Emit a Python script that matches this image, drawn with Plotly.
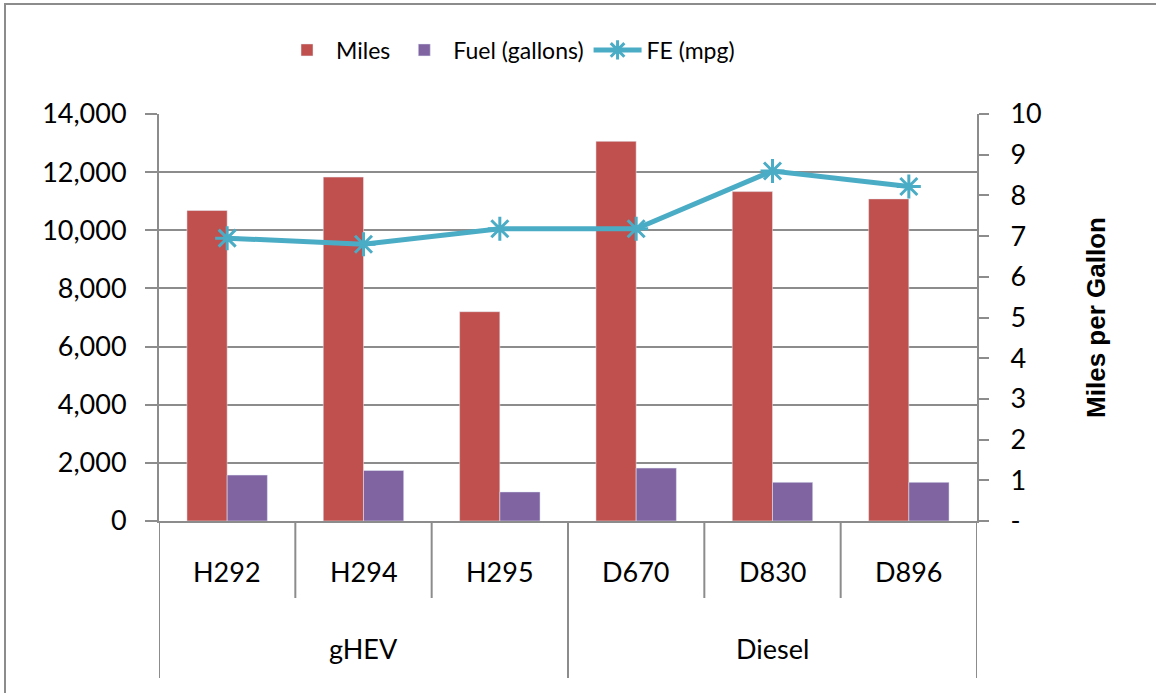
import plotly.graph_objects as go

# ---- data ----
groups = ["gHEV", "gHEV", "gHEV", "Diesel", "Diesel", "Diesel"]
vehicles = ["H292", "H294", "H295", "D670", "D830", "D896"]
miles = [10680, 11830, 7200, 13060, 11330, 11080]
fuel = [1580, 1740, 1000, 1820, 1330, 1330]
fe_mpg = [6.95, 6.80, 7.18, 7.18, 8.60, 8.22]
left_ticks = [0, 2000, 4000, 6000, 8000, 10000, 12000, 14000]
right_ticks = [0, 1, 2, 3, 4, 5, 6, 7, 8, 9, 10]
right_ticktext = ["-", "1", "2", "3", "4", "5", "6", "7", "8", "9", "10"]

RED = "#C0504D"
PURPLE = "#8064A2"
TEAL = "#4BACC6"
GRID = "#8C8C8C"
FONT = "Lato"

W, H = 1156, 693
L, R, T, B = 159, 179, 114, 172
PW, PH = W - L - R, H - T - B


def px_to_paper_x(px):
    return (px - L) / PW


def px_to_paper_y(py):
    return (H - B - py) / PH


fig = go.Figure()
fig.add_trace(go.Bar(name="Miles", x=vehicles, y=miles, marker_color=RED,
                     yaxis="y"))
fig.add_trace(go.Bar(name="Fuel (gallons)", x=vehicles, y=fuel,
                     marker_color=PURPLE, yaxis="y"))
fig.add_trace(go.Scatter(name="FE (mpg)", x=vehicles, y=fe_mpg, yaxis="y2",
                         mode="lines+markers",
                         line=dict(color=TEAL, width=5),
                         marker=dict(symbol="asterisk-open", size=20,
                                     color=TEAL,
                                     line=dict(width=3, color=TEAL))))

shapes = []
annotations = []

# category boundaries (level 1) and group boundaries (level 2)
n = len(vehicles)
group_bounds = [0]
for i in range(1, n):
    if groups[i] != groups[i - 1]:
        group_bounds.append(i)
group_bounds.append(n)
for i in range(n + 1):
    long_line = i in group_bounds
    shapes.append(dict(type="line", xref="x", yref="paper",
                       x0=i - 0.5, x1=i - 0.5,
                       y0=0, y1=px_to_paper_y(678 if long_line else 598),
                       line=dict(color=GRID, width=2)))
for v in vehicles:
    annotations.append(dict(x=v, y=px_to_paper_y(571), xref="x", yref="paper",
                            text=v, showarrow=False, yanchor="middle",
                            font=dict(family=FONT, size=27, color="black")))
for a, b in zip(group_bounds[:-1], group_bounds[1:]):
    annotations.append(dict(x=(a + b - 1) / 2, y=px_to_paper_y(648),
                            xref="x", yref="paper", text=groups[a],
                            showarrow=False, yanchor="middle",
                            font=dict(family=FONT, size=27, color="black")))

# outer chart frame
shapes.append(dict(type="rect", xref="paper", yref="paper",
                   x0=px_to_paper_x(5), x1=px_to_paper_x(1170),
                   y0=px_to_paper_y(710), y1=px_to_paper_y(4),
                   line=dict(color=GRID, width=2), fillcolor="rgba(0,0,0,0)",
                   layer="below"))

fig.update_layout(
    width=W, height=H,
    margin=dict(l=L, r=R, t=T, b=B, autoexpand=False),
    paper_bgcolor="white", plot_bgcolor="white",
    barmode="group", bargap=0.41, bargroupgap=0,
    font=dict(family=FONT, size=27, color="black"),
    showlegend=True,
    legend=dict(orientation="h", x=px_to_paper_x(509), xanchor="center",
                y=px_to_paper_y(50), yanchor="middle",
                font=dict(family=FONT, size=23, color="black"),
                itemwidth=48, traceorder="normal"),
    xaxis=dict(type="category", categoryorder="array", categoryarray=vehicles,
               showticklabels=False, ticks="", showline=True,
               linecolor=GRID, linewidth=2, showgrid=False,
               range=[-0.5, n - 0.5], zeroline=False),
    yaxis=dict(range=[0, 14000], tickvals=left_ticks, tickformat=",",
               showgrid=True, gridcolor=GRID, gridwidth=2,
               showline=True, linecolor=GRID, linewidth=2,
               ticks="outside", ticklen=12, tickcolor=GRID, tickwidth=2,
               ticklabelstandoff=13, zeroline=False,
               tickfont=dict(family=FONT, size=27)),
    yaxis2=dict(range=[0, 10], tickvals=right_ticks, ticktext=right_ticktext,
                overlaying="y", side="right", showgrid=False,
                showline=True, linecolor=GRID, linewidth=2,
                ticks="outside", ticklen=10, tickcolor=GRID, tickwidth=2,
                ticklabelstandoff=16, zeroline=False,
                tickfont=dict(family=FONT, size=27),
                title=dict(text="<b>Miles per Gallon</b>", standoff=46,
                           font=dict(family="Liberation Sans", size=26,
                                     color="black"))),
    shapes=shapes, annotations=annotations,
)

fig.write_html("out.html", config={"displayModeBar": False},
               post_script="document.body.style.margin='0px';"
                           "document.body.style.overflow='hidden';")
